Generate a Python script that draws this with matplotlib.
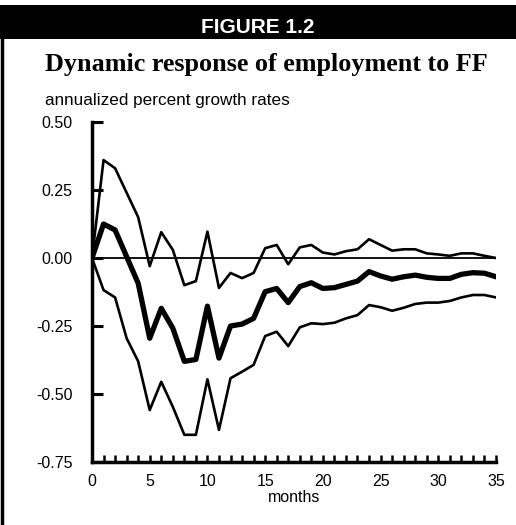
import matplotlib.pyplot as plt
from matplotlib.patches import Rectangle
from matplotlib.lines import Line2D

# impulse response of employment to a federal funds shock
months = list(range(36))
upper = [0.00, 0.36, 0.33, 0.24, 0.15, -0.03, 0.095, 0.03, -0.10, -0.085,
         0.097, -0.11, -0.055, -0.074, -0.055, 0.036, 0.048, -0.023, 0.039, 0.048,
         0.02, 0.013, 0.025, 0.032, 0.069, 0.048, 0.027, 0.032, 0.032, 0.017,
         0.013, 0.008, 0.017, 0.017, 0.008, 0.00]
response = [0.00, 0.125, 0.103, 0.005, -0.093, -0.295, -0.185, -0.258, -0.38, -0.373,
            -0.177, -0.368, -0.25, -0.243, -0.222, -0.124, -0.112, -0.164, -0.105, -0.091,
            -0.112, -0.109, -0.097, -0.085, -0.05, -0.066, -0.078, -0.069, -0.063, -0.071,
            -0.075, -0.075, -0.06, -0.054, -0.056, -0.069]
lower = [0.00, -0.118, -0.145, -0.295, -0.38, -0.559, -0.455, -0.547, -0.65, -0.65,
         -0.446, -0.632, -0.442, -0.418, -0.393, -0.287, -0.271, -0.324, -0.255, -0.24,
         -0.243, -0.238, -0.222, -0.21, -0.173, -0.181, -0.194, -0.183, -0.169, -0.164,
         -0.164, -0.158, -0.145, -0.136, -0.136, -0.145]
yticks = [0.50, 0.25, 0.00, -0.25, -0.50, -0.75]
xticks = [0, 5, 10, 15, 20, 25, 30, 35]

W, H = 516, 525
fig = plt.figure(figsize=(W / 100, H / 100), dpi=100)

# header band and frame
fig.add_artist(Rectangle((0, 1 - 39/H), 1, 34/H, transform=fig.transFigure,
                         facecolor='black', edgecolor='none'))
fig.add_artist(Line2D([0.004, 0.004], [0, 1 - 39/H], transform=fig.transFigure,
                      color='black', lw=2.5))
fig.text(0.5, 1 - 33/H, 'FIGURE 1.2', color='white', ha='center', va='baseline',
         fontsize=15, fontweight='bold', family='Liberation Sans')
fig.text(266/W, 1 - 71/H, 'Dynamic response of employment to FF', ha='center', va='baseline',
         fontsize=18.8, fontweight='bold', family='Liberation Serif')
fig.text(45/W, 1 - 100/H, 'annualized percent growth rates', ha='left', va='center',
         fontsize=12.3, family='Liberation Sans')

ax = fig.add_axes([92/W, 1 - 462/H, 404/W, 340/H])
ax.plot(months, upper, color='black', lw=1.9)
ax.plot(months, lower, color='black', lw=1.9)
ax.plot(months, response, color='black', lw=3.8)
ax.axhline(0, color='black', lw=1.3)

ax.set_xlim(0, 35)
ax.set_ylim(-0.75, 0.50)
ax.set_yticks(yticks)
ax.set_yticklabels(['%.2f' % v for v in yticks], family='Liberation Sans', fontsize=11.5)
ax.set_xticks(xticks)
ax.set_xticks(months, minor=True)
ax.set_xticklabels([str(v) for v in xticks], family='Liberation Sans', fontsize=11.5)
ax.tick_params(axis='y', direction='in', length=8, width=2.2, pad=14)
ax.tick_params(axis='x', which='both', direction='in', length=5, width=1.8, pad=9)
ax.set_xlabel('months', family='Liberation Sans', fontsize=11.5, labelpad=0)

for s in ['top', 'right']:
    ax.spines[s].set_visible(False)
for s in ['left', 'bottom']:
    ax.spines[s].set_linewidth(2.5)
ax.patch.set_visible(False)

fig.savefig('out.png', dpi=100)
